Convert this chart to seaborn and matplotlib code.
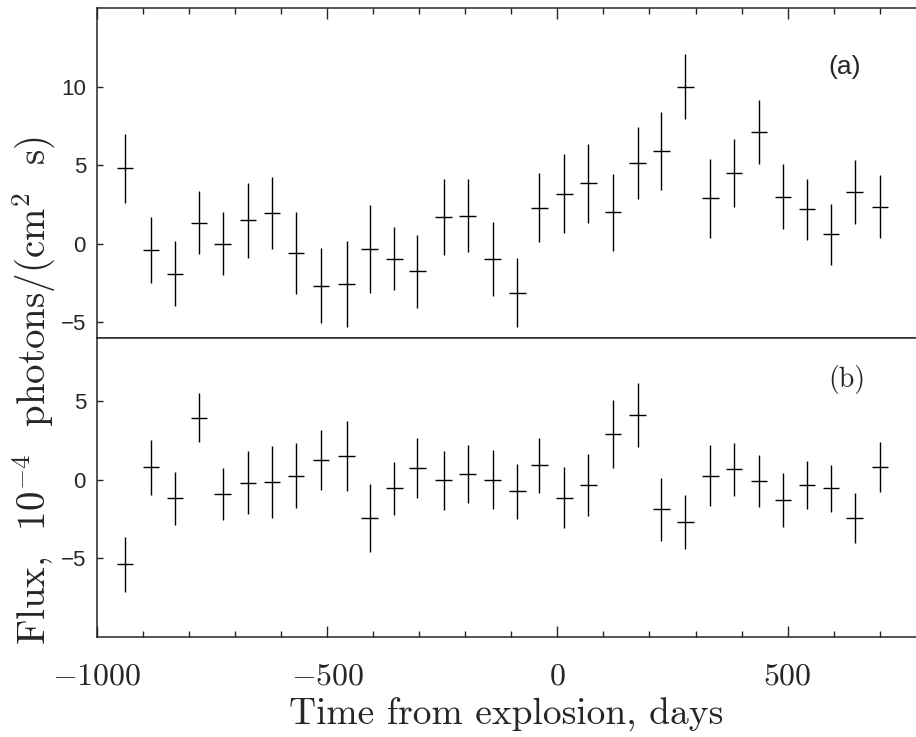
import seaborn as sns
import matplotlib.pyplot as plt
from matplotlib.ticker import MultipleLocator

# time of each bin centre, days from explosion
days = [-939, -883, -831, -779, -727, -672, -620, -568, -514, -458, -408, -354,
        -304, -247, -195, -141, -87, -39, 15, 67, 121, 174, 226, 278, 332, 384,
        438, 490, 542, 594, 646, 701]
day_halfwidth = 18

# panel (a)
flux_a = [4.8, -0.4, -1.9, 1.35, 0.0, 1.5, 1.95, -0.6, -2.65, -2.55, -0.3, -0.95,
          -1.75, 1.7, 1.8, -0.95, -3.1, 2.3, 3.2, 3.85, 2.0, 5.15, 5.9, 10.0,
          2.9, 4.5, 7.1, 3.0, 2.2, 0.6, 3.3, 2.35]
err_a = [2.2, 2.1, 2.05, 2.0, 2.0, 2.4, 2.3, 2.6, 2.4, 2.75, 2.8, 2.0, 2.3, 2.4,
         2.35, 2.35, 2.2, 2.2, 2.5, 2.5, 2.45, 2.3, 2.5, 2.05, 2.5, 2.15, 2.05,
         2.05, 1.95, 1.95, 2.05, 2.0]

# panel (b)
flux_b = [-5.4, 0.8, -1.2, 3.95, -0.9, -0.2, -0.15, 0.25, 1.25, 1.5, -2.45, -0.55,
          0.75, -0.05, 0.35, 0.0, -0.75, 0.9, -1.15, -0.35, 2.9, 4.1, -1.9, -2.7,
          0.25, 0.65, -0.1, -1.3, -0.35, -0.55, -2.45, 0.8]
err_b = [1.75, 1.75, 1.7, 1.55, 1.65, 2.0, 2.3, 2.05, 1.9, 2.2, 2.15, 1.7, 1.9,
         1.9, 1.85, 1.9, 1.75, 1.75, 1.95, 1.95, 2.15, 2.05, 2.0, 1.7, 1.95, 1.7,
         1.65, 1.7, 1.55, 1.5, 1.6, 1.6]

x_ticks = [-1000, -500, 0, 500]
x_ticklabels = ['$-1000$', '$-500$', '$0$', '$500$']
yticks_a = [-5, 0, 5, 10]
yticks_b = [-5, 0, 5]

sns.set_style('ticks')
plt.rcParams['font.family'] = ['cmr10', 'DejaVu Serif']
plt.rcParams['mathtext.fontset'] = 'cm'
plt.rcParams['axes.unicode_minus'] = False
plt.rcParams['axes.linewidth'] = 1.1

fig, (ax1, ax2) = plt.subplots(2, 1, figsize=(9.16, 7.37), dpi=100, sharex=True,
                               gridspec_kw={'height_ratios': [21, 19], 'hspace': 0})
fig.subplots_adjust(left=0.106, right=1.0, top=0.989, bottom=0.136)

for ax, flux, err in [(ax1, flux_a, err_a), (ax2, flux_b, err_b)]:
    ax.errorbar(days, flux, yerr=err, xerr=day_halfwidth, fmt='none',
                ecolor='black', elinewidth=1.0, capsize=0)
    ax.spines['right'].set_visible(False)
    ax.tick_params(axis='y', direction='in', length=4.5, width=1.0, pad=8,
                   labelsize=16, left=True)

ax1.set_xlim(-1000, 779)
ax1.set_ylim(-6, 15)
ax2.set_ylim(-10, 9)

ax1.set_yticks(yticks_a)
ax1.set_yticklabels([str(v).replace('-', '\u2212') for v in yticks_a],
                    fontfamily='Liberation Sans')
ax2.set_yticks(yticks_b)
ax2.set_yticklabels([str(v).replace('-', '\u2212') for v in yticks_b],
                    fontfamily='Liberation Sans')

ax2.set_xticks(x_ticks)
ax2.set_xticklabels(x_ticklabels, fontsize=23)
ax2.xaxis.set_minor_locator(MultipleLocator(100))

ax1.tick_params(axis='x', which='both', direction='in', top=True, bottom=False,
                labeltop=False, labelbottom=False)
ax1.tick_params(axis='x', which='major', length=8, width=1.0)
ax1.tick_params(axis='x', which='minor', length=4, width=1.0)
ax2.tick_params(axis='x', which='both', direction='in', top=False, bottom=True)
ax2.tick_params(axis='x', which='major', length=8, width=1.0, pad=19)
ax2.tick_params(axis='x', which='minor', length=4, width=1.0)

ax1.text(0.913, 0.821, '(a)', transform=ax1.transAxes, ha='center', va='center',
         fontsize=19, fontfamily='Liberation Sans')
ax2.text(0.916, 0.863, '(b)', transform=ax2.transAxes, ha='center', va='center',
         fontsize=20)

ax2.set_xlabel('Time from explosion, days', fontsize=27, labelpad=5)
fig.text(0.038, 0.47, 'Flux,  10$^{-4}$  photons/(cm$^{2}$  s)', rotation=90,
         ha='center', va='center', fontsize=28)

plt.savefig('out.png', dpi=100)
